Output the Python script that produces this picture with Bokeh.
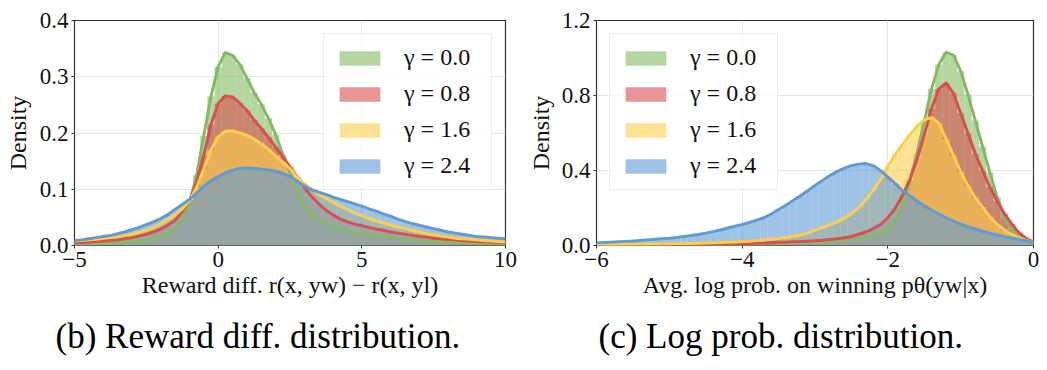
from bokeh.plotting import figure
from bokeh.layouts import row
from bokeh.models import (Legend, LegendItem, Title, FixedTicker, Range1d,
                          CustomJSTickFormatter)
from bokeh.embed import file_html
from bokeh.resources import INLINE

# ---------------- data ----------------
gamma_labels = ["γ = 0.0", "γ = 0.8", "γ = 1.6", "γ = 2.4"]
line_colors = ["#84bb62", "#d94e4e", "#fdcf49", "#5f9bd5"]

# (b) reward difference: bin centres -5 .. 10 step 0.25
reward_bin = 0.25
reward_x = [-5 + reward_bin * i for i in range(61)]
reward_g00 = [0.002, 0.002, 0.003, 0.003, 0.004, 0.004, 0.005, 0.006, 0.007, 0.008,
              0.010, 0.013, 0.017, 0.022, 0.030, 0.046, 0.075, 0.125, 0.195, 0.265,
              0.318, 0.343, 0.338, 0.322, 0.298, 0.272, 0.251, 0.226, 0.197, 0.162,
              0.128, 0.097, 0.072, 0.055, 0.045, 0.038, 0.033, 0.029, 0.026, 0.024,
              0.022, 0.019, 0.017, 0.016, 0.014, 0.013, 0.012, 0.011, 0.010, 0.009,
              0.008, 0.007, 0.006, 0.006, 0.005, 0.005, 0.004, 0.004, 0.003, 0.003,
              0.003]
reward_g08 = [0.005, 0.005, 0.006, 0.007, 0.008, 0.009, 0.010, 0.012, 0.014, 0.017,
              0.020, 0.024, 0.029, 0.036, 0.045, 0.060, 0.080, 0.113, 0.160, 0.215,
              0.252, 0.266, 0.264, 0.253, 0.240, 0.223, 0.208, 0.192, 0.175, 0.157,
              0.140, 0.122, 0.103, 0.087, 0.074, 0.063, 0.054, 0.047, 0.042, 0.038,
              0.035, 0.032, 0.029, 0.027, 0.024, 0.022, 0.020, 0.018, 0.016, 0.015,
              0.013, 0.012, 0.011, 0.010, 0.009, 0.008, 0.007, 0.0065, 0.006, 0.0055,
              0.005]
reward_g16 = [0.008, 0.009, 0.010, 0.011, 0.013, 0.014, 0.016, 0.018, 0.020, 0.023,
              0.027, 0.032, 0.038, 0.046, 0.054, 0.065, 0.080, 0.103, 0.135, 0.170,
              0.193, 0.203, 0.204, 0.200, 0.196, 0.189, 0.181, 0.171, 0.159, 0.148,
              0.137, 0.121, 0.110, 0.100, 0.091, 0.084, 0.077, 0.070, 0.064, 0.058,
              0.053, 0.048, 0.044, 0.040, 0.036, 0.033, 0.030, 0.027, 0.024, 0.021,
              0.019, 0.017, 0.015, 0.013, 0.012, 0.011, 0.010, 0.009, 0.008, 0.007,
              0.0065]
reward_g24 = [0.009, 0.010, 0.012, 0.014, 0.016, 0.018, 0.021, 0.024, 0.028, 0.032,
              0.037, 0.042, 0.048, 0.055, 0.064, 0.073, 0.082, 0.093, 0.105, 0.115,
              0.122, 0.129, 0.134, 0.137, 0.138, 0.137, 0.136, 0.134, 0.132, 0.128,
              0.123, 0.114, 0.106, 0.099, 0.095, 0.091, 0.086, 0.082, 0.078, 0.074,
              0.070, 0.065, 0.061, 0.056, 0.052, 0.047, 0.043, 0.039, 0.036, 0.033,
              0.030, 0.027, 0.024, 0.022, 0.020, 0.018, 0.016, 0.015, 0.014, 0.013,
              0.012]

# (c) average log prob on winning response: bin centres -6 .. 0 step 0.1
logp_bin = 0.1
logp_x = [-6 + logp_bin * i for i in range(61)]
logp_g00 = [0.001, 0.001, 0.001, 0.001, 0.002, 0.002, 0.002, 0.002, 0.002, 0.003,
            0.003, 0.003, 0.003, 0.003, 0.004, 0.004, 0.004, 0.004, 0.005, 0.005,
            0.005, 0.006, 0.007, 0.008, 0.009, 0.010, 0.011, 0.013, 0.014, 0.016,
            0.018, 0.021, 0.024, 0.027, 0.030, 0.034, 0.038, 0.044, 0.051, 0.062,
            0.085, 0.133, 0.215, 0.335, 0.490, 0.660, 0.835, 0.965, 1.030, 1.015,
            0.930, 0.805, 0.667, 0.528, 0.390, 0.258, 0.150, 0.085, 0.047, 0.025,
            0.012]
logp_g08 = [0.002, 0.002, 0.002, 0.003, 0.003, 0.003, 0.003, 0.004, 0.004, 0.004,
            0.005, 0.005, 0.005, 0.006, 0.006, 0.007, 0.007, 0.008, 0.008, 0.009,
            0.010, 0.011, 0.012, 0.013, 0.015, 0.017, 0.018, 0.020, 0.021, 0.023,
            0.025, 0.028, 0.032, 0.036, 0.041, 0.048, 0.060, 0.072, 0.090, 0.112,
            0.148, 0.197, 0.265, 0.350, 0.460, 0.590, 0.730, 0.835, 0.866, 0.812,
            0.705, 0.598, 0.490, 0.400, 0.312, 0.237, 0.170, 0.115, 0.068, 0.038,
            0.018]
logp_g16 = [0.004, 0.004, 0.005, 0.005, 0.006, 0.006, 0.007, 0.007, 0.008, 0.008,
            0.009, 0.010, 0.011, 0.011, 0.012, 0.013, 0.014, 0.016, 0.017, 0.019,
            0.021, 0.023, 0.026, 0.030, 0.034, 0.038, 0.042, 0.048, 0.056, 0.066,
            0.082, 0.095, 0.110, 0.126, 0.145, 0.170, 0.200, 0.245, 0.295, 0.350,
            0.420, 0.485, 0.538, 0.588, 0.635, 0.670, 0.683, 0.652, 0.568, 0.480,
            0.393, 0.318, 0.255, 0.205, 0.153, 0.113, 0.083, 0.059, 0.040, 0.028,
            0.018]
logp_g24 = [0.014, 0.016, 0.018, 0.020, 0.022, 0.024, 0.027, 0.030, 0.033, 0.036,
            0.039, 0.043, 0.048, 0.053, 0.059, 0.066, 0.074, 0.083, 0.093, 0.103,
            0.112, 0.123, 0.135, 0.149, 0.168, 0.192, 0.215, 0.240, 0.265, 0.292,
            0.320, 0.346, 0.372, 0.394, 0.412, 0.426, 0.434, 0.437, 0.425, 0.400,
            0.365, 0.330, 0.293, 0.265, 0.237, 0.212, 0.188, 0.168, 0.148, 0.130,
            0.114, 0.100, 0.088, 0.076, 0.066, 0.056, 0.047, 0.040, 0.032, 0.025,
            0.018]

reward_x_ticks = [-5, 0, 5, 10]
reward_y_ticks = [0.0, 0.1, 0.2, 0.3, 0.4]
logp_x_ticks = [-6, -4, -2, 0]
logp_y_ticks = [0.0, 0.4, 0.8, 1.2]

reward_xlabel = "Reward diff. r(x, yw) − r(x, yl)"
logp_xlabel = "Avg. log prob. on winning pθ(yw|x)"
ylabel = "Density"
caption_b = "(b) Reward diff. distribution."
caption_c = "(c) Log prob. distribution."

# ---------------- styling ----------------
AX_FONT = "Liberation Serif"
CAP_FONT = "Liberation Serif"

x_fmt = CustomJSTickFormatter(code="""
    return tick < 0 ? "\u2212" + Math.abs(tick).toString() : tick.toString();
""")
y_fmt = CustomJSTickFormatter(code="return tick.toFixed(1);")


def make_panel(xs, series, bin_w, xr, yr, xticks, yticks, xlabel, caption,
               legend_loc, b_left, f_width, b_right, cap_offset, ylab_standoff):
    p = figure(frame_width=f_width, frame_height=225,
               min_border_left=b_left, min_border_right=b_right,
               min_border_top=20, min_border_bottom=125,
               x_range=Range1d(*xr), y_range=Range1d(*yr),
               output_backend="svg", toolbar_location=None,
               background_fill_color="white", border_fill_color="white")
    p.outline_line_color = "#333333"
    p.outline_line_width = 1.2
    p.grid.grid_line_color = "#e6e6e6"
    p.grid.grid_line_width = 1

    bars = []
    for vals, col in zip(series, line_colors):
        r = p.vbar(x=xs, top=vals, width=bin_w, bottom=0,
                   fill_color=col, fill_alpha=0.6, line_color=None)
        bars.append(r)
    for vals, col in zip(series, line_colors):
        p.line(xs, vals, line_color=col, line_width=3, line_join="round")

    for ax in (p.xaxis[0], p.yaxis[0]):
        ax.axis_line_color = None
        ax.major_tick_out = 3
        ax.major_tick_in = 0
        ax.major_tick_line_color = "#333333"
        ax.minor_tick_line_color = None
        ax.major_label_text_font = AX_FONT
        ax.major_label_text_font_size = "23px"
        ax.major_label_text_color = "#111111"
        ax.axis_label_text_font = AX_FONT
        ax.axis_label_text_font_size = "24px"
        ax.axis_label_text_font_style = "normal"
        ax.axis_label_text_color = "#111111"
        ax.major_label_standoff = 3

    p.xaxis[0].axis_label_standoff = 2
    p.yaxis[0].axis_label_standoff = ylab_standoff
    p.xaxis[0].ticker = FixedTicker(ticks=xticks)
    p.yaxis[0].ticker = FixedTicker(ticks=yticks)
    p.xaxis[0].formatter = x_fmt
    p.yaxis[0].formatter = y_fmt
    p.xaxis[0].axis_label = xlabel
    p.yaxis[0].axis_label = ylabel

    items = [LegendItem(label=lab, renderers=[r]) for lab, r in zip(gamma_labels, bars)]
    leg = Legend(items=items, location=legend_loc, margin=13,
                 glyph_width=51, glyph_height=18, label_standoff=19,
                 label_height=26, label_width=77, spacing=9, padding=10,
                 label_text_font=AX_FONT, label_text_font_size="24px",
                 label_text_color="#111111",
                 border_line_color="#d9d9d9", border_line_width=1,
                 background_fill_color="white", background_fill_alpha=0.8)
    p.add_layout(leg, "center")

    t = Title(text=caption, align="left", offset=cap_offset, standoff=29,
              text_font=CAP_FONT, text_font_size="35px",
              text_font_style="normal", text_color="#000000")
    p.add_layout(t, "below")
    return p


p1 = make_panel(reward_x, [reward_g00, reward_g08, reward_g16, reward_g24], reward_bin,
                (-5, 10), (0, 0.4), reward_x_ticks, reward_y_ticks, reward_xlabel,
                caption_b, "top_right", 74, 431, 18, -19, 6)
p2 = make_panel(logp_x, [logp_g00, logp_g08, logp_g16, logp_g24], logp_bin,
                (-6, 0), (0, 1.2), logp_x_ticks, logp_y_ticks, logp_xlabel,
                caption_c, "top_left", 73, 437, 14, 2, 5)

layout = row(p1, p2)
open("out.html", "w").write(file_html(layout, INLINE))
